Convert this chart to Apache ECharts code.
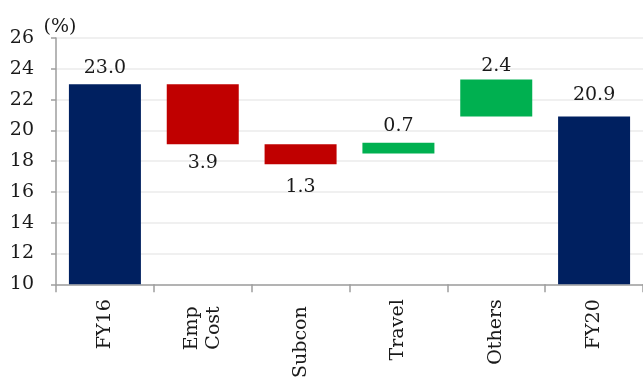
<!DOCTYPE html>
<html>
<head>
<meta charset="utf-8">
<script src="https://cdn.jsdelivr.net/npm/echarts@6/dist/echarts.min.js"></script>
<style>
  html, body { margin: 0; padding: 0; background: #ffffff; }
  #chart { width: 643px; height: 381px; }
</style>
</head>
<body>
<div id="chart"></div>
<script>
// Margin bridge FY16 -> FY20 (%)
const categories = ['FY16', 'Emp\nCost', 'Subcon', 'Travel', 'Others', 'FY20'];
// Start and end totals (full bars)
const totals = [23.0, null, null, null, null, 20.9];
// Where each floating bar starts
const offsets = [null, 19.1, 17.8, 18.5, 20.9, null];
// Size of each movement
const changes = [null, 3.9, 1.3, 0.7, 2.4, null];
// Direction of each movement
const kinds = [null, 'down', 'down', 'up', 'up', null];
const yTicks = { min: 10, max: 26, step: 2 };
const unitLabel = '(%)';

const NAVY = '#002060', RED = '#C00000', GREEN = '#00B050';
const FONT = 'DejaVu Serif';
const FS = 19;
const TEXT = '#1a1a1a';
const AXIS = '#9e9e9e';

// per-bar label placement
const totalLabelGap = [7, null, null, null, null, 12];
const changeLabelGap = [null, 9, 13, 7, 4, null];
// extra gap between axis and some category labels
const labelInset = [0, 7, 7, 0, 0, 0];

const fmt = p => (p.value == null || p.value === '-') ? '' : Number(p.value).toFixed(1);

const totalData = totals.map((v, i) => v == null ? '-' : {
  value: v,
  label: { show: true, position: 'top', distance: totalLabelGap[i] }
});
const offsetData = offsets.map(v => v == null ? '-' : v);
const changeData = changes.map((v, i) => v == null ? '-' : {
  value: v,
  itemStyle: { color: kinds[i] === 'down' ? RED : GREEN },
  label: {
    show: true,
    position: kinds[i] === 'down' ? 'bottom' : 'top',
    distance: changeLabelGap[i]
  }
});

const chart = echarts.init(document.getElementById('chart'), null, { renderer: 'canvas' });
chart.setOption({
  animation: false,
  backgroundColor: '#ffffff',
  textStyle: { fontFamily: FONT },
  grid: { left: 56, top: 38, width: 596, height: 249, containLabel: false },
  xAxis: {
    type: 'category',
    data: categories,
    boundaryGap: true,
    axisLine: { show: true, lineStyle: { color: AXIS, width: 1.5 } },
    axisTick: { show: true, length: 8, alignWithLabel: false, lineStyle: { color: AXIS, width: 1.5 } },
    axisLabel: {
      interval: 0,
      rotate: 90,
      margin: 15,
      fontFamily: FONT,
      fontSize: FS,
      color: TEXT,
      lineHeight: 22,
      formatter: (val, idx) => labelInset[idx]
        ? val.split('\n').map(s => '{inset|' + s + '}').join('\n')
        : val,
      rich: {
        inset: { fontFamily: FONT, fontSize: FS, color: TEXT, lineHeight: 22, padding: [0, 7, 0, 0] }
      }
    },
    splitLine: { show: false }
  },
  yAxis: {
    type: 'value',
    min: yTicks.min,
    max: yTicks.max,
    interval: yTicks.step,
    name: unitLabel,
    nameLocation: 'end',
    nameGap: 1,
    nameTextStyle: {
      fontFamily: FONT,
      fontSize: FS,
      color: TEXT,
      align: 'center',
      padding: [0, 0, 0, 8]
    },
    axisLine: { show: true, lineStyle: { color: AXIS, width: 1.5 } },
    axisTick: { show: true, length: 5, lineStyle: { color: AXIS, width: 1.5 } },
    axisLabel: { margin: 22, fontFamily: FONT, fontSize: FS, color: TEXT },
    splitLine: { show: true, lineStyle: { color: '#ebebeb', width: 1.5 } }
  },
  series: [
    {
      name: 'Total',
      type: 'bar',
      data: totalData,
      barWidth: 72,
      barGap: '-100%',
      itemStyle: { color: NAVY },
      label: { fontFamily: FONT, fontSize: FS, color: TEXT, formatter: fmt }
    },
    {
      name: 'Offset',
      type: 'bar',
      stack: 'bridge',
      data: offsetData,
      barWidth: 72,
      itemStyle: { color: 'rgba(0,0,0,0)' },
      emphasis: { disabled: true },
      silent: true
    },
    {
      name: 'Change',
      type: 'bar',
      stack: 'bridge',
      data: changeData,
      barWidth: 72,
      label: { fontFamily: FONT, fontSize: FS, color: TEXT, formatter: fmt }
    }
  ]
});
</script>
</body>
</html>
